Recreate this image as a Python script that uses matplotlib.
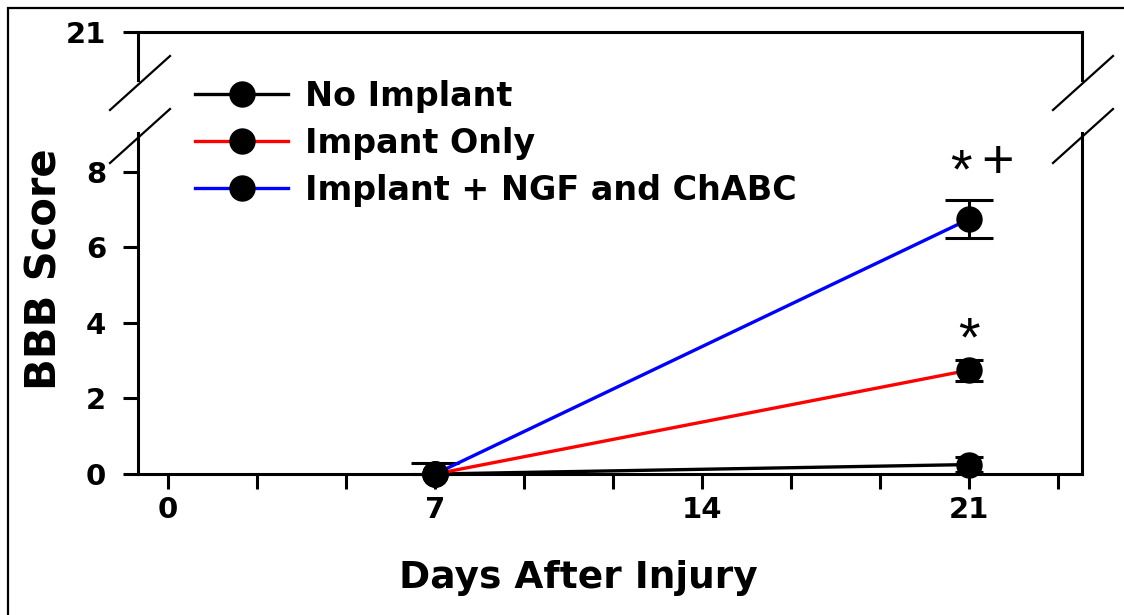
import matplotlib.pyplot as plt
import numpy as np
from matplotlib.lines import Line2D
from matplotlib.patches import Rectangle

plt.rcParams['font.family'] = ['DejaVu Sans']

days = [7, 21]
labels = ['No Implant', 'Impant Only', 'Implant + NGF and ChABC']
colors = ['black', '#ff0000', '#0000ff']

no_implant = [0.0, 0.25]
no_implant_err = [[0.0, 0.2], [0.0, 0.2]]
impant_only = [0.0, 2.75]
impant_only_err = [[0.0, 0.28], [0.0, 0.28]]
ngf_chabc = [0.0, 6.75]
ngf_chabc_err = [[0.0, 0.5], [0.3, 0.5]]

series = [no_implant, impant_only, ngf_chabc]
errors = [no_implant_err, impant_only_err, ngf_chabc_err]
capsizes = [10, 10, 17]

W, H = 1124, 615
fig = plt.figure(figsize=(W / 100, H / 100), dpi=100)


def fx(px):
    return px / W


def fy(py):
    return 1 - py / H


# outer frame of the panel (right/bottom run off the image)
fig.patches.append(Rectangle((fx(8), fy(1000)), 2, fy(8) - fy(1000),
                             transform=fig.transFigure, fill=False,
                             edgecolor='black', linewidth=1.6))

ax_top = fig.add_axes([fx(138), fy(80), fx(1082) - fx(138), fy(32) - fy(80)])
ax_bot = fig.add_axes([fx(138), fy(474), fx(1082) - fx(138), fy(133) - fy(474)])

lw = 2.2
for ax in (ax_top, ax_bot):
    for s in ax.spines.values():
        s.set_linewidth(lw)
    ax.set_xlim(-0.79, 23.96)
    ax.patch.set_alpha(0)

ax_top.spines['bottom'].set_visible(False)
ax_bot.spines['top'].set_visible(False)
ax_top.set_ylim(19.73, 21)
ax_bot.set_ylim(0, 9.03)

ax_top.set_yticks([21])
ax_top.set_xticks([])
ax_bot.set_yticks([0, 2, 4, 6, 8])
ax_bot.set_xticks([0, 7, 14, 21])
ax_bot.set_xticks(np.arange(0, 24, 7 / 3), minor=True)

for ax in (ax_top, ax_bot):
    ax.tick_params(axis='y', direction='out', length=11, width=lw, pad=12,
                   labelsize=21)
    for t in ax.get_yticklabels():
        t.set_fontweight('bold')
ax_bot.tick_params(axis='x', which='both', direction='out', length=11,
                   width=lw, pad=5, labelsize=21)
for t in ax_bot.get_xticklabels():
    t.set_fontweight('bold')

handles = []
for vals, err, c, cs, lab in zip(series, errors, colors, capsizes, labels):
    ax_bot.errorbar(days, vals, yerr=err, fmt='none', ecolor='black',
                    elinewidth=2.2, capsize=cs, capthick=2.2, clip_on=False,
                    zorder=3)
    ln, = ax_bot.plot(days, vals, color=c, lw=2.4, marker='o', ms=18,
                      mfc='black', mec='black', clip_on=False, zorder=4,
                      label=lab)
    handles.append(ln)

# significance marks
sym = dict(fontsize=40, ha='center', va='center', family='Liberation Sans')
ax_bot.text(20.8, 7.95, '*', **sym)
ax_bot.text(21.75, 8.2, '+', **sym)
ax_bot.text(21.0, 3.5, '*', **sym)

fig.legend(handles=handles, loc='upper left',
           bbox_to_anchor=(fx(195), fy(80)), frameon=False,
           borderpad=0, borderaxespad=0, handlelength=2.8,
           handletextpad=0.5, labelspacing=0.42,
           prop={'size': 24, 'weight': 'bold'})

# axis break marks
for x0 in (110, 1053):
    for yb in (110, 163):
        fig.add_artist(Line2D([fx(x0), fx(x0 + 60)], [fy(yb), fy(yb - 54)],
                              transform=fig.transFigure, color='black',
                              lw=1.6))

fig.text(fx(45), fy(269), 'BBB Score', rotation=90, ha='center',
         va='center', fontsize=30, fontweight='bold')
fig.text(fx(578), fy(588), 'Days After Injury', ha='center',
         va='baseline', fontsize=27, fontweight='bold')

fig.savefig('out.png', dpi=100)
